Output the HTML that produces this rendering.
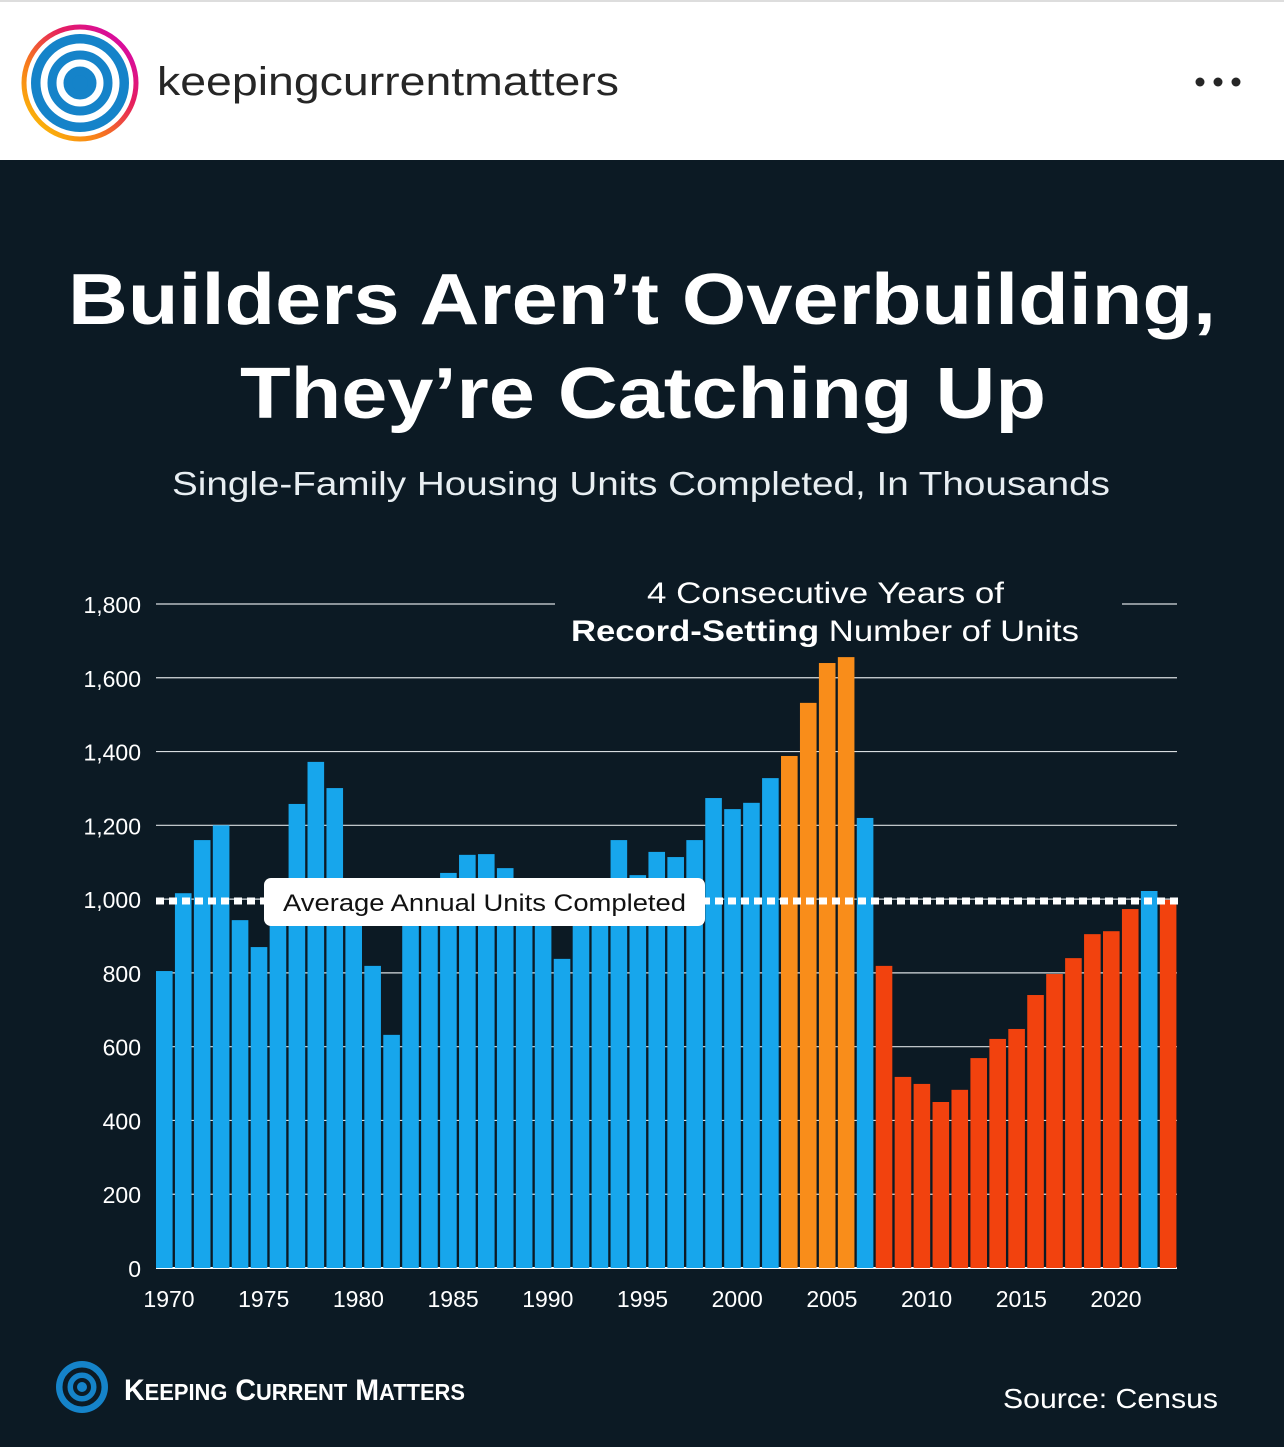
<!DOCTYPE html>
<html><head><meta charset="utf-8"><style>
body{margin:0;width:1284px;height:1447px;overflow:hidden;background:#0c1a24;font-family:"Liberation Sans",sans-serif}
#hdr{position:absolute;left:0;top:0;width:1284px;height:160px;background:#fff;border-top:2px solid #ddd;box-sizing:border-box}
</style></head><body>
<div id="hdr">
<svg width="1284" height="160" style="position:absolute;left:0;top:-2px">
<defs><linearGradient id="rg" x1="0" y1="1" x2="1" y2="0"><stop offset="0" stop-color="#fdd000"/><stop offset="0.35" stop-color="#f77b1c"/><stop offset="0.65" stop-color="#e51f5f"/><stop offset="1" stop-color="#d000c4"/></linearGradient></defs>
<g>
<circle cx="80" cy="83" r="56" fill="none" stroke="url(#rg)" stroke-width="5"/>
<circle cx="80" cy="83" r="49" fill="#1583c9"/>
<circle cx="80" cy="83" r="36" fill="none" stroke="#fff" stroke-width="7"/>
<circle cx="80" cy="83" r="20" fill="none" stroke="#fff" stroke-width="7"/>
<circle cx="80" cy="83" r="8" fill="#1583c9"/>
</g>
<text x="157" y="95" font-size="40" fill="#262626" textLength="462" lengthAdjust="spacingAndGlyphs">keepingcurrentmatters</text>
<g fill="#262626"><circle cx="1200" cy="82" r="4.5"/><circle cx="1218" cy="82" r="4.5"/><circle cx="1236" cy="82" r="4.5"/></g>
</svg>
</div>
<svg id="chart" width="1284" height="1447" style="position:absolute;left:0;top:0;pointer-events:none">
<text x="68" y="324" font-size="72" font-weight="bold" fill="#fff" textLength="1148" lengthAdjust="spacingAndGlyphs">Builders Aren’t Overbuilding,</text>
<text x="240" y="418" font-size="72" font-weight="bold" fill="#fff" textLength="806" lengthAdjust="spacingAndGlyphs">They’re Catching Up</text>
<text x="172" y="495" font-size="33" fill="#e8eef2" textLength="938" lengthAdjust="spacingAndGlyphs">Single-Family Housing Units Completed, In Thousands</text>
<g id="grid"></g><g id="bars"></g><g id="ann"></g>
<g>
<circle cx="82" cy="1387" r="26" fill="#1583c9"/><circle cx="82" cy="1387" r="17" fill="none" stroke="#0c1a24" stroke-width="5"/><circle cx="82" cy="1387" r="7" fill="none" stroke="#0c1a24" stroke-width="4"/>
<text x="124" y="1400" font-size="30" font-weight="bold" fill="#fff" textLength="341" lengthAdjust="spacingAndGlyphs">K<tspan font-size="23">EEPING</tspan> C<tspan font-size="23">URRENT</tspan> M<tspan font-size="23">ATTERS</tspan></text>
</g>
<text x="1003" y="1408" font-size="28" fill="#fff" textLength="215" lengthAdjust="spacingAndGlyphs">Source: Census</text>
</svg>
<script>
const years=[1970,1971,1972,1973,1974,1975,1976,1977,1978,1979,1980,1981,1982,1983,1984,1985,1986,1987,1988,1989,1990,1991,1992,1993,1994,1995,1996,1997,1998,1999,2000,2001,2002,2003,2004,2005,2006,2007,2008,2009,2010,2011,2012,2013,2014,2015,2016,2017,2018,2019,2020,2021,2022,2023];
const values=[805,1016,1160,1200,943,870,1030,1258,1372,1301,960,819,632,960,1000,1071,1120,1122,1084,1010,970,838,960,1030,1160,1065,1128,1114,1160,1274,1244,1261,1328,1388,1532,1640,1656,1220,819,518,499,450,483,569,621,648,740,797,840,905,913,973,1022,998];
const groups=["b","b","b","b","b","b","b","b","b","b","b","b","b","b","b","b","b","b","b","b","b","b","b","b","b","b","b","b","b","b","b","b","b","o","o","o","o","b","r","r","r","r","r","r","r","r","r","r","r","r","r","r","b","r"];
const yTicks=[0,200,400,600,800,1000,1200,1400,1600,1800];
const yTickLabels=["0","200","400","600","800","1,000","1,200","1,400","1,600","1,800"];
const xTickYears=[1970,1975,1980,1985,1990,1995,2000,2005,2010,2015,2020];
const average=[995];
const NS="http://www.w3.org/2000/svg";
const y=v=>1268-v*(664/1800);
const x0=156,pitch=18.94;
const x=yr=>x0+(yr-1970)*pitch;
const col={b:"#17a6ec",o:"#f98d1a",r:"#f2420e"};
function mk(t,a,p){const e=document.createElementNS(NS,t);for(const k in a)e.setAttribute(k,a[k]);p.appendChild(e);return e;}
const grid=document.getElementById('grid'),bars=document.getElementById('bars'),ann=document.getElementById('ann');
yTicks.forEach((v,i)=>{
  const yy=y(v);
  if(i===yTicks.length-1){
    const l1=mk('line',{x1:156,x2:555,y1:yy,y2:yy,stroke:"#d8dde0","stroke-width":1.2},grid);
    
    
    const l2=mk('line',{x1:1122,x2:1177,y1:yy,y2:yy,stroke:"#d8dde0","stroke-width":1.2},grid);
    
    
  } else {
    const l=mk('line',{x1:156,x2:1177,y1:yy,y2:yy,stroke:v===0?"#fff":"#d8dde0","stroke-width":v===0?2:1.2},grid);
    
    
  }
  const t=mk('text',{x:141,y:yy+9,"font-size":23,fill:"#fff","text-anchor":"end"},grid);
  t.textContent=yTickLabels[i];
  
  
});
years.forEach((yr,i)=>{
  const r=mk('rect',{x:x(yr),y:y(values[i]),width:16.6,height:y(0)-y(values[i]),fill:col[groups[i]]},bars);
  
  
});
xTickYears.forEach(yr=>{
  const t=mk('text',{x:x(yr)+13,y:1307,"font-size":23,fill:"#fff","text-anchor":"middle"},grid);
  t.textContent=yr;
  
  
});
const ay=y(average[0]);
const al=mk('line',{x1:156,x2:1180,y1:ay,y2:ay,stroke:"#fff","stroke-width":7,"stroke-dasharray":"8 5"},ann);


const box=mk('rect',{x:264,y:878,width:441,height:48,rx:7,fill:"#fff"},ann);


const bt=mk('text',{x:283,y:911,"font-size":24,fill:"#111",textLength:403,lengthAdjust:"spacingAndGlyphs"},ann);
bt.textContent="Average Annual Units Completed";


const a1=mk('text',{x:647,y:603,"font-size":30,fill:"#fff",textLength:357,lengthAdjust:"spacingAndGlyphs"},ann);
a1.textContent="4 Consecutive Years of";


const a2=mk('text',{x:571,y:641,"font-size":30,fill:"#fff",textLength:508,lengthAdjust:"spacingAndGlyphs"},ann);
a2.innerHTML='<tspan font-weight="bold">Record-Setting</tspan> Number of Units';


</script>
</body></html>
